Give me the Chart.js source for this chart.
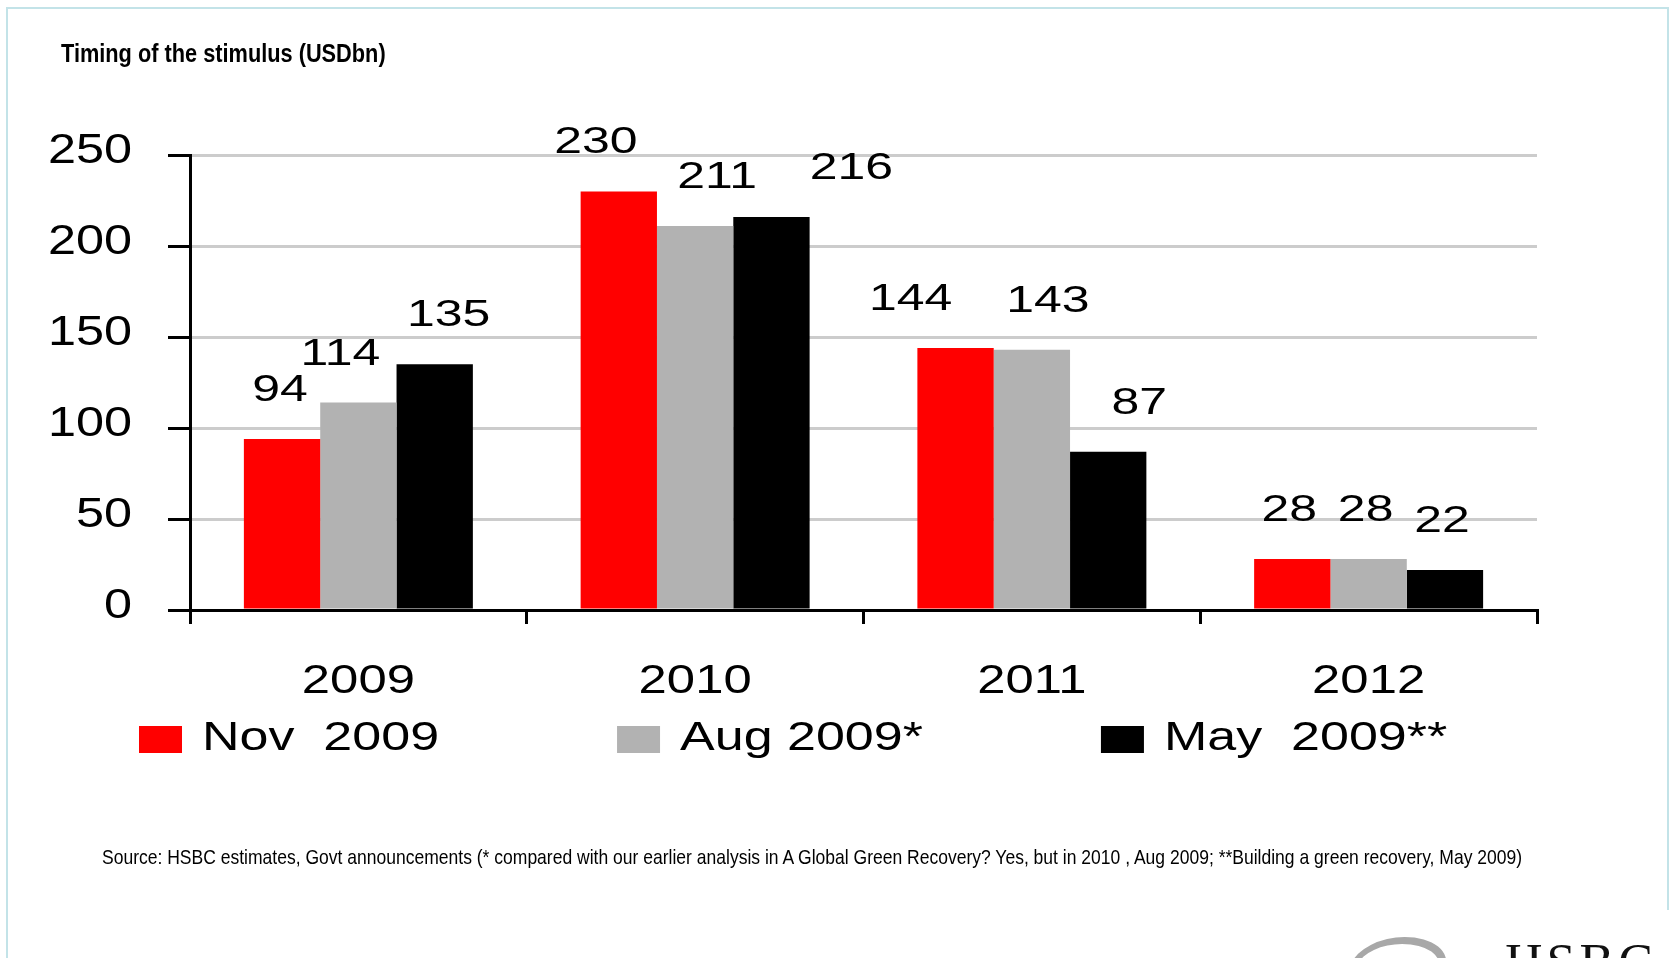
<!DOCTYPE html>
<html>
<head>
<meta charset="utf-8">
<script src="https://cdn.jsdelivr.net/npm/chart.js@4.4.1/dist/chart.umd.min.js"></script>
<style>
  html, body { margin: 0; padding: 0; background: #fff; overflow: hidden; }
  #wrap { position: relative; width: 1671px; height: 958px; }
  .edge { position: absolute; background: #c3e3e8; }
  #edgeLeft { left: 6px; top: 7px; width: 2px; height: 951px; }
  #edgeTop { left: 6px; top: 7px; width: 1663px; height: 2px; }
  #edgeRight { left: 1667px; top: 7px; width: 2px; height: 903px; }
  #chartBox { position: absolute; left: 0; top: 0; width: 1671px; height: 958px; }
  #title { position: absolute; left: 61px; top: 41px; font: bold 25px/1 "Liberation Sans", Arial, sans-serif; color: #000;
           white-space: nowrap; transform: scaleX(0.87); transform-origin: 0 0; }
  #source { position: absolute; left: 102px; top: 846px; font: 21px/1 "Liberation Sans", Arial, sans-serif; color: #000;
            white-space: nowrap; transform: scaleX(0.834); transform-origin: 0 0; }
  #logoMark { position: absolute; left: 1350px; top: 937px; width: 96px; height: 60px; border-radius: 50% 60% 40% 50%;
              border: 7px solid #a8a8a8; box-sizing: border-box; transform: skewX(-20deg); }
  #logoText { position: absolute; left: 1505px; top: 937px; font: 52px/1 "Liberation Serif", serif; letter-spacing: 4px; color: #111; }
</style>
</head>
<body>
<div id="wrap">
  <div class="edge" id="edgeLeft"></div>
  <div class="edge" id="edgeTop"></div>
  <div class="edge" id="edgeRight"></div>
  <div id="chartBox"><canvas id="stimulusChart"></canvas></div>
  <div id="title">Timing of the stimulus (USDbn)</div>
  <div id="source">Source: HSBC estimates, Govt announcements (* compared with our earlier analysis in A Global Green Recovery? Yes, but in 2010 , Aug 2009; **Building a green recovery, May 2009)</div>
  <div id="logoMark"></div>
  <div id="logoText">HSBC</div>
</div>
<script>
// Chart data
const years = ['2009', '2010', '2011', '2012'];
const seriesNames = ['Nov  2009', 'Aug 2009*', 'May  2009**'];
const nov2009 = [94, 230, 144, 28];
const aug2009 = [114, 211, 143, 28];
const may2009 = [135, 216, 87, 22];
const yTicks = [0, 50, 100, 150, 200, 250];

const seriesColors = ['#ff0000', '#b2b2b2', '#000000'];
const FONT = '"Liberation Sans", Arial, sans-serif';

// text in the original is drawn a bit wider than normal, so stretch it
function wideText(ctx, text, x, y, size, stretch) {
  ctx.save();
  ctx.font = size + 'px ' + FONT;
  ctx.translate(x, y);
  ctx.scale(stretch, 1);
  ctx.fillText(text, 0, 0);
  ctx.restore();
}

const extraText = {
  id: 'extraText',
  afterDatasetsDraw(chart, args, opts) {
    const ctx = chart.ctx;
    ctx.save();
    ctx.fillStyle = '#000';
    ctx.textAlign = 'center';
    ctx.textBaseline = 'alphabetic';
    chart.data.datasets.forEach((ds, i) => {
      chart.getDatasetMeta(i).data.forEach((bar, j) => {
        // the labels were hand-placed in the original, nudge them sideways the same way
        const dx = opts.labelShift[i][j];
        wideText(ctx, String(ds.data[j]), bar.x + dx, bar.y - 38, 37, 1.35);
      });
    });
    ctx.restore();
  },
  afterDraw(chart) {
    const ctx = chart.ctx;
    const area = chart.chartArea;
    const xScale = chart.scales.x;
    const yScale = chart.scales.y;
    ctx.save();
    ctx.fillStyle = '#000';

    // value axis labels
    ctx.textAlign = 'right';
    ctx.textBaseline = 'middle';
    yTicks.forEach((v) => {
      wideText(ctx, String(v), area.left - 58, yScale.getPixelForValue(v) - 4, 42, 1.2);
    });

    // category labels
    ctx.textAlign = 'center';
    ctx.textBaseline = 'alphabetic';
    years.forEach((yr, i) => {
      wideText(ctx, yr, xScale.getPixelForValue(i), area.bottom + 83, 40, 1.27);
    });

    // legend row
    ctx.textAlign = 'left';
    let x = area.left - 51;
    chart.data.datasets.forEach((ds) => {
      ctx.fillStyle = ds.backgroundColor;
      ctx.fillRect(x, area.bottom + 116, 43, 27);
      ctx.fillStyle = '#000';
      ctx.font = '40px ' + FONT;
      const w = ctx.measureText(ds.label).width * 1.3;
      wideText(ctx, ds.label, x + 63, area.bottom + 140, 40, 1.3);
      x += 63 + w + 178;
    });
    ctx.restore();
  }
};

const ctx = document.getElementById('stimulusChart').getContext('2d');
const stimulusChart = new Chart(ctx, {
  type: 'bar',
  data: {
    labels: years,
    datasets: [
      { label: seriesNames[0], data: nov2009, backgroundColor: seriesColors[0] },
      { label: seriesNames[1], data: aug2009, backgroundColor: seriesColors[1] },
      { label: seriesNames[2], data: may2009, backgroundColor: seriesColors[2] }
    ]
  },
  options: {
    responsive: true,
    maintainAspectRatio: false,
    animation: false,
    datasets: {
      bar: { barPercentage: 1, categoryPercentage: 0.68 }
    },
    layout: { padding: { top: 155, right: 134, left: 0, bottom: 0 } },
    plugins: {
      legend: { display: false },
      tooltip: { enabled: false },
      extraText: {
        labelShift: [
          [-2, -23, -45, -3],
          [-18, 22, 16, -3],
          [14, 80, 31, -3]
        ]
      }
    },
    scales: {
      x: {
        grid: {
          offset: true,
          drawOnChartArea: false,
          drawTicks: true,
          tickLength: 14,
          tickColor: '#000',
          lineWidth: 3
        },
        border: { color: '#000', width: 3 },
        ticks: { display: false },
        afterFit(scale) { scale.height = 348; }
      },
      y: {
        min: 0,
        max: 250,
        afterBuildTicks(scale) { scale.ticks = yTicks.map(v => ({ value: v })); },
        grid: {
          color: (c) => c.tick && c.tick.value === 0 ? 'rgba(0,0,0,0)' : '#cccccc',
          lineWidth: 3,
          drawTicks: true,
          tickLength: 22,
          tickColor: '#000'
        },
        border: { color: '#000', width: 3 },
        ticks: { display: false },
        afterFit(scale) { scale.width = 190; }
      }
    }
  },
  plugins: [extraText]
});
</script>
</body>
</html>
